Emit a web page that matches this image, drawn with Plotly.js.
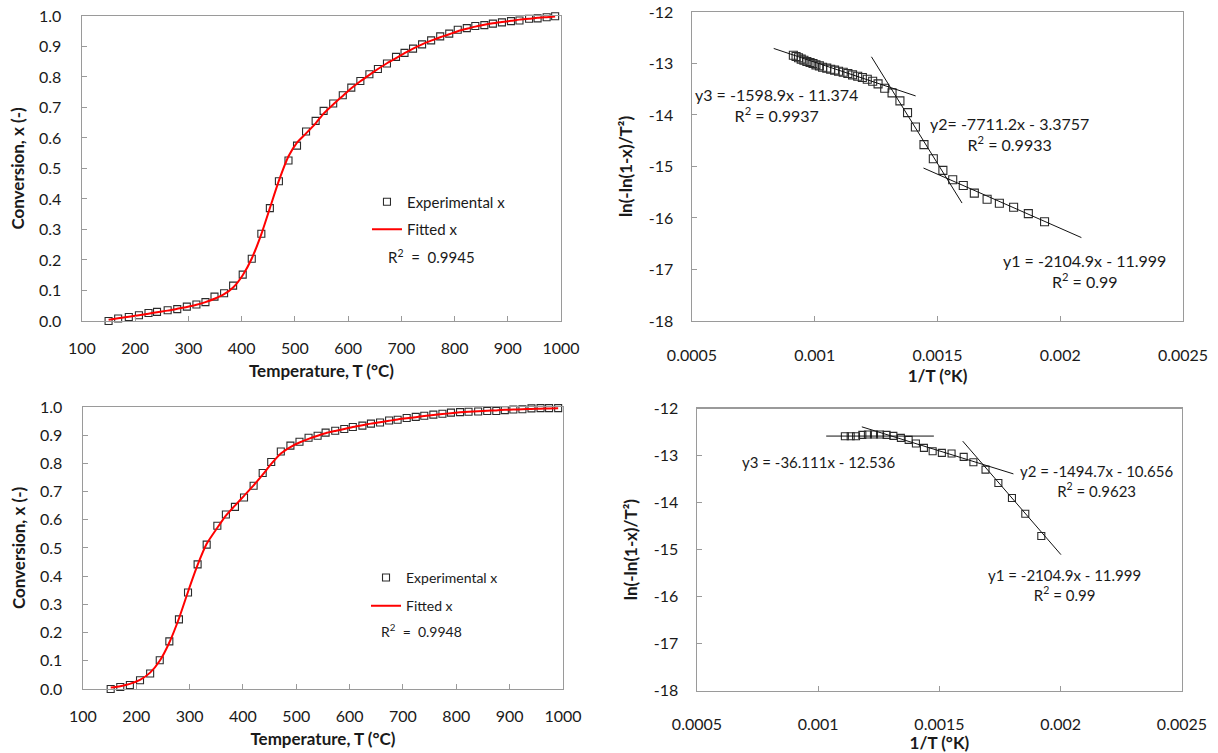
<!DOCTYPE html>
<html>
<head>
<meta charset="utf-8">
<script src="https://cdn.plot.ly/plotly-3.0.1.min.js"></script>
<style>html,body{margin:0;padding:0;background:#fff;}#chart{width:1218px;height:753px;}</style>
</head>
<body>
<div id="chart"></div>
<script>
// ---------- Data ----------
// Top-left: conversion vs temperature
const TL_T = [150,168,188,207,225,241,261,279,297,315,332,349,367,384,402,419,437,453,470,488,504,521,539,554,572,590,606,623,640,656,673,690,706,722,739,756,773,790,806,823,839,856,872,889,906,922,940,956,973,989];
const TL_expX = [0.0,0.008,0.013,0.019,0.026,0.03,0.035,0.039,0.047,0.054,0.062,0.08,0.091,0.116,0.152,0.204,0.286,0.37,0.458,0.526,0.575,0.621,0.656,0.689,0.713,0.74,0.765,0.787,0.809,0.826,0.844,0.866,0.879,0.893,0.907,0.92,0.933,0.942,0.955,0.96,0.967,0.97,0.975,0.979,0.983,0.985,0.991,0.992,0.996,0.999];
const TL_fitX = [0.004,0.009,0.014,0.019,0.024,0.029,0.034,0.04,0.046,0.053,0.062,0.073,0.088,0.11,0.15,0.205,0.285,0.37,0.46,0.54,0.585,0.615,0.648,0.68,0.71,0.738,0.763,0.786,0.807,0.826,0.845,0.862,0.878,0.893,0.907,0.919,0.93,0.94,0.95,0.958,0.965,0.971,0.976,0.98,0.984,0.988,0.991,0.994,0.996,0.998];
const TL_R2 = "R<sup>2</sup>  =  0.9945";

// Bottom-left: conversion vs temperature
const BL_T = [152,170,188,207,226,244,262,280,297,315,332,352,368,385,402,420,437,453,471,489,506,523,540,555,573,590,606,624,640,657,674,690,707,724,740,757,774,790,807,823,841,858,875,891,907,924,941,958,974,991];
const BL_expX = [0.0,0.007,0.014,0.031,0.055,0.102,0.169,0.247,0.342,0.442,0.512,0.579,0.619,0.646,0.679,0.721,0.766,0.805,0.842,0.863,0.877,0.891,0.898,0.909,0.916,0.922,0.929,0.934,0.941,0.945,0.952,0.955,0.961,0.965,0.969,0.973,0.976,0.98,0.982,0.983,0.984,0.986,0.986,0.989,0.991,0.992,0.995,0.996,0.996,0.996];
const BL_fitX = [0.005,0.01,0.018,0.032,0.058,0.1,0.165,0.25,0.345,0.44,0.515,0.572,0.615,0.65,0.685,0.722,0.76,0.798,0.835,0.858,0.874,0.887,0.898,0.907,0.915,0.922,0.929,0.935,0.941,0.946,0.951,0.956,0.96,0.964,0.968,0.972,0.975,0.978,0.981,0.983,0.985,0.987,0.988,0.99,0.991,0.992,0.993,0.994,0.995,0.996];
const BL_R2 = "R<sup>2</sup>  =  0.9948";

// Top-right: ln(-ln(1-x)/T^2) vs 1/T
const TR_invT = [0.000913,0.000924,0.000934,0.000945,0.000956,0.000968,0.000981,0.000993,0.001005,0.001019,0.001032,0.001049,0.001065,0.001081,0.001097,0.001116,0.001135,0.001154,0.001175,0.001194,0.001214,0.001236,0.001258,0.001285,0.001315,0.001347,0.001378,0.001410,0.001445,0.001483,0.001522,0.001562,0.001605,0.00165,0.001702,0.001752,0.00181,0.00187,0.001936];
const TR_lnY = [-12.839,-12.864,-12.890,-12.916,-12.936,-12.962,-12.981,-13.001,-13.027,-13.046,-13.072,-13.091,-13.111,-13.130,-13.150,-13.169,-13.195,-13.221,-13.247,-13.273,-13.305,-13.344,-13.396,-13.481,-13.571,-13.727,-13.954,-14.233,-14.576,-14.849,-15.076,-15.257,-15.368,-15.517,-15.636,-15.714,-15.792,-15.916,-16.072];
const TR_fitY3_x = [0.000833,0.001411], TR_fitY3_y = [-12.708,-13.630];
const TR_fitY2_x = [0.001231,0.001600], TR_fitY2_y = [-12.870,-15.710];
const TR_fitY1_x = [0.001443,0.002086], TR_fitY1_y = [-15.030,-16.380];
const TR_labels = ["y3 = -1598.9x - 11.374<br>R<sup>2</sup> = 0.9937", "y2= -7711.2x - 3.3757<br>R<sup>2</sup> = 0.9933", "y1 = -2104.9x - 11.999<br>R<sup>2</sup> = 0.99"];
const TR_labelX = [0.000845, 0.001792, 0.002100];
const TR_labelY = [-13.80, -14.37, -17.02];

// Bottom-right
const BR_invT = [0.00111,0.001134,0.001156,0.001182,0.001205,0.00123,0.001255,0.001282,0.00131,0.001341,0.001373,0.001403,0.001436,0.001472,0.00151,0.00155,0.0016,0.00164,0.00169,0.001743,0.001799,0.001854,0.00192];
const BR_lnY = [-12.589,-12.589,-12.589,-12.561,-12.554,-12.554,-12.554,-12.561,-12.582,-12.625,-12.667,-12.745,-12.838,-12.909,-12.944,-12.958,-13.029,-13.143,-13.299,-13.583,-13.903,-14.236,-14.710];
const BR_fitY3_x = [0.001033,0.001477], BR_fitY3_y = [-12.586,-12.586];
const BR_fitY2_x = [0.001180,0.001805], BR_fitY2_y = [-12.390,-13.390];
const BR_fitY1_x = [0.001596,0.002001], BR_fitY1_y = [-12.694,-15.107];
const BR_labels = ["y3 = -36.111x - 12.536", "y2 = -1494.7x - 10.656<br>R<sup>2</sup> = 0.9623", "y1 = -2104.9x - 11.999<br>R<sup>2</sup> = 0.99"];
const BR_labelX = [0.001003, 0.002146, 0.002016];
const BR_labelY = [-13.136, -13.54, -15.75];

// Tick labels
const convTicks = [0,0.1,0.2,0.3,0.4,0.5,0.6,0.7,0.8,0.9,1.0];
const convTickText = ["0.0","0.1","0.2","0.3","0.4","0.5","0.6","0.7","0.8","0.9","1.0"];
const tempTicks = [100,200,300,400,500,600,700,800,900,1000];
const invTTicks = [0.0005,0.001,0.0015,0.002,0.0025];
const invTTickText = ["0.0005","0.001","0.0015","0.002","0.0025"];
const lnTicks = [-18,-17,-16,-15,-14,-13,-12];
const lnTickText = ["-18","-17","-16","-15","-14","-13","-12"];

// ---------- Styling ----------
const FONT = "Lato, 'Open Sans', sans-serif";
const TXT = "#1a1a1a";
const AXC = "#9a9a9a";
const mk = (size) => ({symbol: "square-open", size: size, color: "#2b2b2b", line: {width: 1.1, color: "#2b2b2b"}});

const traces = [
  {x: TL_T, y: TL_expX, type: "scatter", mode: "markers", name: "Experimental x", marker: mk(7), xaxis: "x", yaxis: "y", legend: "legend", legendgroup: "a", cliponaxis: false},
  {x: TL_T, y: TL_fitX, type: "scatter", mode: "lines", name: "Fitted x", line: {color: "#ff0000", width: 2, shape: "spline", smoothing: 0.6}, xaxis: "x", yaxis: "y", legend: "legend", legendgroup: "b", cliponaxis: false},
  {x: BL_T, y: BL_expX, type: "scatter", mode: "markers", name: "Experimental x", marker: mk(7), xaxis: "x3", yaxis: "y3", legend: "legend2", legendgroup: "c", cliponaxis: false},
  {x: BL_T, y: BL_fitX, type: "scatter", mode: "lines", name: "Fitted x", line: {color: "#ff0000", width: 2, shape: "spline", smoothing: 0.6}, xaxis: "x3", yaxis: "y3", legend: "legend2", legendgroup: "d", cliponaxis: false},
  {x: TR_invT, y: TR_lnY, type: "scatter", mode: "markers", marker: mk(8), xaxis: "x2", yaxis: "y2", showlegend: false, cliponaxis: false},
  {x: TR_fitY3_x, y: TR_fitY3_y, type: "scatter", mode: "lines", line: {color: "#111", width: 1}, xaxis: "x2", yaxis: "y2", showlegend: false},
  {x: TR_fitY2_x, y: TR_fitY2_y, type: "scatter", mode: "lines", line: {color: "#111", width: 1}, xaxis: "x2", yaxis: "y2", showlegend: false},
  {x: TR_fitY1_x, y: TR_fitY1_y, type: "scatter", mode: "lines", line: {color: "#111", width: 1}, xaxis: "x2", yaxis: "y2", showlegend: false},
  {x: BR_invT, y: BR_lnY, type: "scatter", mode: "markers", marker: mk(7), xaxis: "x4", yaxis: "y4", showlegend: false, cliponaxis: false},
  {x: BR_fitY3_x, y: BR_fitY3_y, type: "scatter", mode: "lines", line: {color: "#111", width: 1}, xaxis: "x4", yaxis: "y4", showlegend: false},
  {x: BR_fitY2_x, y: BR_fitY2_y, type: "scatter", mode: "lines", line: {color: "#111", width: 1}, xaxis: "x4", yaxis: "y4", showlegend: false},
  {x: BR_fitY1_x, y: BR_fitY1_y, type: "scatter", mode: "lines", line: {color: "#111", width: 1}, xaxis: "x4", yaxis: "y4", showlegend: false}
];

function axisBase(extra) {
  return Object.assign({
    showgrid: false, zeroline: false, showline: true, mirror: true,
    linecolor: AXC, linewidth: 1.4, ticks: "inside", ticklen: 5, tickcolor: AXC, tickwidth: 1,
    tickfont: {family: FONT, size: 16, color: TXT}, automargin: false, fixedrange: true
  }, extra);
}
const titleFont = {family: FONT, size: 17, color: TXT, weight: "bold"};

const layout = {
  width: 1218, height: 753,
  margin: {l: 0, r: 0, t: 0, b: 0},
  paper_bgcolor: "#ffffff", plot_bgcolor: "#ffffff",
  font: {family: FONT, color: TXT},
  xaxis: axisBase({domain: [0.0673, 0.4606], range: [100, 1000], tickvals: tempTicks, anchor: "y", ticklabelstandoff: 12,
    title: {text: "Temperature, T (°C)", font: titleFont, standoff: 9}}),
  yaxis: axisBase({domain: [0.5737, 0.9788], range: [0, 1], tickvals: convTicks, ticktext: convTickText, anchor: "x", ticklabelstandoff: 16,
    title: {text: "Conversion, x (-)", font: titleFont, standoff: 10}}),
  xaxis2: axisBase({domain: [0.5681, 0.9713], range: [0.0005, 0.0025], tickvals: invTTicks, ticktext: invTTickText, anchor: "y2", ticklabelstandoff: 19,
    title: {text: "1/T (°K)", font: titleFont, standoff: 7}}),
  yaxis2: axisBase({domain: [0.5737, 0.9841], range: [-18, -12], tickvals: lnTicks, ticktext: lnTickText, anchor: "x2", ticklabelstandoff: 14,
    title: {text: "ln(-ln(1-x)/T²)", font: titleFont, standoff: 12}}),
  xaxis3: axisBase({domain: [0.0681, 0.4622], range: [100, 1000], tickvals: tempTicks, anchor: "y3", ticklabelstandoff: 12,
    title: {text: "Temperature, T (°C)", font: titleFont, standoff: 9}}),
  yaxis3: axisBase({domain: [0.0850, 0.4595], range: [0, 1], tickvals: convTicks, ticktext: convTickText, anchor: "x3", ticklabelstandoff: 16,
    title: {text: "Conversion, x (-)", font: titleFont, standoff: 10}}),
  xaxis4: axisBase({domain: [0.5722, 0.9704], range: [0.0005, 0.0025], tickvals: invTTicks, ticktext: invTTickText, anchor: "y4", ticklabelstandoff: 19,
    title: {text: "1/T (°K)", font: titleFont, standoff: 7}}),
  yaxis4: axisBase({domain: [0.0827, 0.4575], range: [-18, -12], tickvals: lnTicks, ticktext: lnTickText, anchor: "x4", ticklabelstandoff: 14,
    title: {text: "ln(-ln(1-x)/T²)", font: titleFont, standoff: 12}}),
  legend: {x: 0.3013, y: 0.7537, xanchor: "left", yanchor: "top", bgcolor: "rgba(0,0,0,0)", borderwidth: 0,
    font: {family: FONT, size: 15, color: TXT}, tracegroupgap: 5, itemclick: false, itemdoubleclick: false},
  legend2: {x: 0.3005, y: 0.2537, xanchor: "left", yanchor: "top", bgcolor: "rgba(0,0,0,0)", borderwidth: 0,
    font: {family: FONT, size: 14, color: TXT}, tracegroupgap: 7, itemclick: false, itemdoubleclick: false},
  showlegend: true,
  annotations: []
};

function addAnn(xref, yref, xs, ys, texts, size, align) {
  for (let i = 0; i < texts.length; i++) {
    layout.annotations.push({xref: xref, yref: yref, x: xs[i], y: ys[i], text: texts[i], showarrow: false,
      xanchor: align === "left" ? "left" : "center", yanchor: "middle", align: align || "center",
      font: {family: FONT, size: size, color: TXT}});
  }
}
addAnn("x", "y", [672], [0.213], [TL_R2], 15, "left");
addAnn("x3", "y3", [655], [0.2066], [BL_R2], 14, "left");
addAnn("x2", "y2", TR_labelX, TR_labelY, TR_labels, 16, "center");
addAnn("x4", "y4", BR_labelX, BR_labelY, BR_labels, 15, "center");

Plotly.newPlot("chart", traces, layout, {displayModeBar: false, staticPlot: true});
</script>
</body>
</html>
